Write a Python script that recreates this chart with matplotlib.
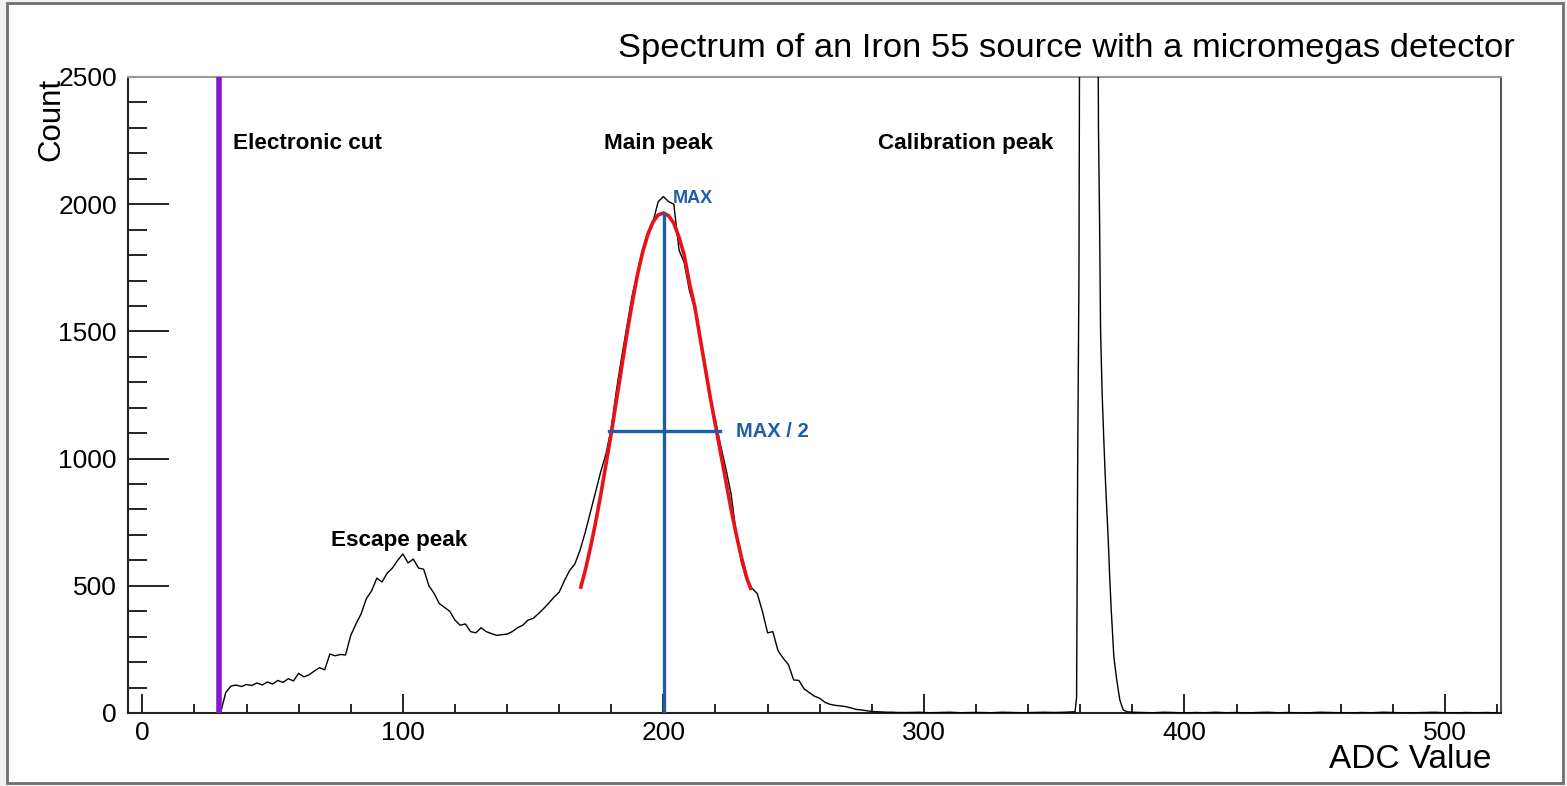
import matplotlib
matplotlib.use("Agg")
import matplotlib.pyplot as plt
from matplotlib.patches import Rectangle
from matplotlib.ticker import MultipleLocator

plt.rcParams['font.family'] = ['Liberation Sans', 'DejaVu Sans']

# ---- histogram data (ADC value, count) ----
adc_main = list(range(30, 292, 2))
counts_main = [
    0, 80, 106, 110, 104, 112, 108, 118, 110, 122,          # 30-48
    114, 128, 120, 135, 126, 156, 142, 150, 165, 178,       # 50-68
    170, 232, 225, 230, 228, 305, 350, 390, 450, 480,       # 70-88
    530, 515, 550, 570, 600, 625, 590, 605, 570, 565,       # 90-108
    500, 470, 430, 415, 400, 365, 345, 350, 320, 315,       # 110-128
    335, 320, 312, 305, 308, 310, 320, 335, 345, 365,       # 130-148
    372, 390, 410, 432, 455, 475, 520, 560, 585, 640,       # 150-168
    710, 790, 870, 950, 1020, 1120, 1270, 1400, 1520, 1640, # 170-188
    1730, 1820, 1890, 1930, 2010, 2030, 2010, 2000, 1820, 1770,  # 190-208
    1660, 1590, 1480, 1350, 1230, 1150, 1050, 960, 860, 700,     # 210-228
    590, 525, 490, 470, 400, 315, 320, 245, 215, 190,       # 230-248
    130, 128, 95, 80, 66, 58, 42, 34, 30, 28,               # 250-268
    25, 20, 14, 12, 9, 6, 5, 4, 3, 3,                       # 270-288
    2,                                                      # 290
]
adc_low = list(range(294, 358, 4))
counts_low = [2, 3, 1, 2, 3, 1, 2, 2, 1, 3, 2, 1, 2, 3, 2, 3]

adc_calib = [358.0, 358.6, 359.0, 359.5, 360.0, 361.0, 363.0, 365.0, 366.5,
             367.0, 367.4, 367.8, 368.4, 369.0, 369.6, 370.2, 370.8, 371.3,
             371.9, 372.4, 372.9, 374.0, 375.2, 376.5, 378.0, 380.0]
counts_calib = [5, 60, 955, 1715, 3600, 5200, 6400, 5800, 3600,
                2291, 1951, 1505, 1258, 1086, 929, 798, 668, 536,
                405, 314, 221, 130, 51, 12, 5, 3]

adc_tail = list(range(384, 524, 4))
counts_tail = [2, 1, 3, 2, 0, 2, 1, 3, 1, 2, 0, 2, 3, 1, 2, 0, 1, 3,
               2, 1, 0, 2, 1, 3, 2, 0, 1, 2, 3, 1, 0, 2, 1, 2, 0]

# ---- gaussian fit curve (red) ----
fit_adc = [168.3, 170, 172, 174, 176, 178, 180, 182, 184, 186, 188, 190,
           192, 194, 196, 198, 200, 202, 204, 206, 208, 210, 212, 214,
           216, 218, 220, 222, 224, 226, 228, 230, 232, 233.5]
fit_counts = [495, 560, 650, 750, 860, 980, 1100, 1230, 1360, 1490, 1610, 1720,
              1810, 1880, 1930, 1958, 1965, 1955, 1925, 1870, 1800, 1690, 1600, 1480,
              1360, 1240, 1130, 1020, 910, 800, 700, 610, 530, 490]

# ---- annotation values ----
cut_adc = 29.4
max_adc = 200.2
max_count = 1965
half_count = 1108
half_left, half_right = 179.0, 221.7

xs = [29.5] + adc_main + adc_low + adc_calib + adc_tail
ys = [0] + counts_main + counts_low + counts_calib + counts_tail

fig = plt.figure(figsize=(15.67, 7.86), dpi=100)
fig.patch.set_facecolor('#f2f2f2')
frame = Rectangle((7 / 1567, 3 / 786), 1556 / 1567, 780 / 786,
                  transform=fig.transFigure, facecolor='white',
                  edgecolor='#6e6e6e', linewidth=2.0, zorder=-10)
fig.add_artist(frame)

ax = fig.add_axes([128 / 1567, 1 - 713 / 786, (1501 - 128) / 1567, (713 - 77) / 786])
ax.set_zorder(5)
ax.set_facecolor('white')

ax.plot(xs, ys, color='black', linewidth=1.0, zorder=3)
ax.plot(fit_adc, fit_counts, color='#e8121a', linewidth=2.6, zorder=4)

ax.axvline(cut_adc, color='#8a14d6', linewidth=4, zorder=5)
ax.plot([max_adc, max_adc], [0, max_count], color='#1d5ea8', linewidth=2.4, zorder=5)
ax.plot([half_left, half_right], [half_count, half_count], color='#1d5ea8', linewidth=2.4, zorder=5)

ax.set_xlim(-5.5, 521.5)
ax.set_ylim(0, 2500)

ax.xaxis.set_major_locator(MultipleLocator(100))
ax.xaxis.set_minor_locator(MultipleLocator(20))
ax.yaxis.set_major_locator(MultipleLocator(500))
ax.yaxis.set_minor_locator(MultipleLocator(100))
ax.tick_params(axis='y', which='major', direction='in', length=29.5, width=1.2,
               labelsize=19, pad=8, color='black')
ax.tick_params(axis='y', which='minor', direction='in', length=13.5, width=1.2, color='black')
ax.tick_params(axis='x', which='major', direction='in', length=13.5, width=1.2,
               labelsize=19, pad=6, color='black')
ax.tick_params(axis='x', which='minor', direction='in', length=6.5, width=1.2, color='black')

for s in ['left', 'bottom']:
    ax.spines[s].set_linewidth(1.5)
    ax.spines[s].set_color('#222222')
ax.spines['top'].set_color('#9a9a9a')
ax.spines['top'].set_linewidth(1.5)
ax.spines['right'].set_color('#555555')
ax.spines['right'].set_linewidth(1.5)

# texts
fig.text(1515 / 1567, 1 - 48 / 786, 'Spectrum of an Iron 55 source with a micromegas detector',
         ha='right', va='center', fontsize=24.8)
fig.text(51 / 1567, 1 - 78 / 786, 'Count', rotation=90, ha='center', va='top', fontsize=22.5)
fig.text(1491 / 1567, 1 - 760 / 786, 'ADC Value', ha='right', va='center', fontsize=24)

ax.text(34.7, 2240, 'Electronic cut', fontsize=16.2, fontweight='bold', va='center', ha='left')
ax.text(177.1, 2240, 'Main peak', fontsize=16.2, fontweight='bold', va='center', ha='left')
ax.text(282.3, 2240, 'Calibration peak', fontsize=16.2, fontweight='bold', va='center', ha='left')
ax.text(72.3, 680, 'Escape peak', fontsize=16.2, fontweight='bold', va='center', ha='left')
ax.text(203.6, 2024, 'MAX', fontsize=13, fontweight='bold', color='#1d5ea8', va='center', ha='left')
ax.text(227.8, 1108, 'MAX / 2', fontsize=14.5, fontweight='bold', color='#1d5ea8', va='center', ha='left')

fig.savefig('out.png', dpi=100, facecolor=fig.get_facecolor())
